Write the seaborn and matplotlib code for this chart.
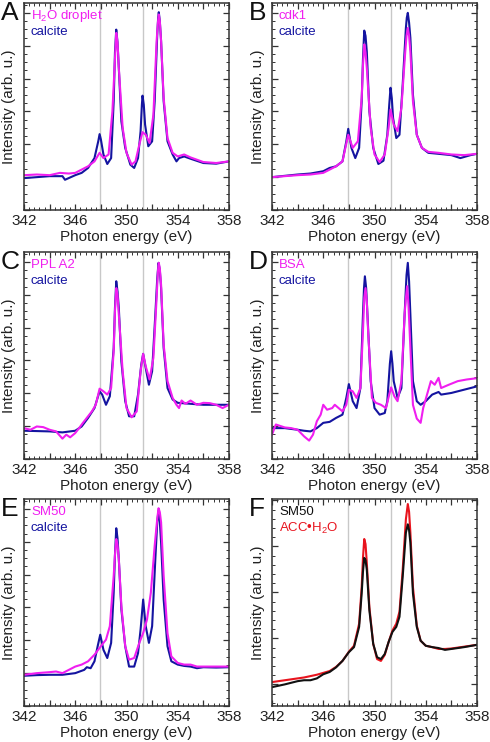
import numpy as np
import pandas as pd
import seaborn as sns
import matplotlib.pyplot as plt
from matplotlib.ticker import MultipleLocator, AutoMinorLocator, FuncFormatter

# ---- data (energy in eV, intensity in arb. units) ----
# A: H2O droplet vs calcite
a_calc_e = [342, 343, 344, 345, 345.2, 346, 346.5, 347, 347.5, 347.8, 347.9, 348.0, 348.2, 348.5, 348.8,
            349.0, 349.1, 349.2, 349.3, 349.4, 349.6, 349.9, 350.3, 350.6, 350.9, 351.1, 351.2, 351.25,
            351.35, 351.45, 351.7, 352.0, 352.2, 352.4, 352.47, 352.52, 352.6, 352.7, 352.9, 353.2,
            353.6, 353.9, 354.1, 354.5, 355, 356, 357, 358]
a_calc_i = [0.97, 1.0, 1.03, 1.03, 0.92, 1.06, 1.13, 1.28, 1.58, 2.1, 2.31, 2.15, 1.69, 1.40, 1.58,
            3.31, 4.8, 5.49, 5.1, 4.32, 2.70, 1.89, 1.38, 1.28, 1.58, 2.40, 3.2, 3.48,
            3.2, 2.60, 1.94, 2.09, 3.31, 5.34, 5.85, 6.02, 5.75, 5.14, 3.31, 2.09,
            1.69, 1.48, 1.58, 1.63, 1.56, 1.43, 1.41, 1.48]
a_samp_e = [342, 343, 344, 344.8, 345.5, 346, 346.5, 347, 347.5, 347.9, 348.2, 348.6, 348.9, 349.1,
            349.2, 349.3, 349.4, 349.7, 350.0, 350.4, 350.7, 351.0, 351.25, 351.5, 351.8, 352.1,
            352.35, 352.45, 352.52, 352.6, 352.7, 352.9, 353.2, 353.6, 354, 354.5, 355, 356, 357, 358]
a_samp_i = [1.06, 1.08, 1.06, 1.13, 1.11, 1.13, 1.23, 1.33, 1.48, 1.74, 1.58, 1.69, 3.0, 4.6,
            5.39, 5.1, 4.32, 2.5, 1.74, 1.38, 1.48, 1.99, 2.37, 2.29, 2.04, 2.9,
            5.14, 5.7, 5.95, 5.75, 5.14, 3.41, 2.19, 1.74, 1.63, 1.69, 1.60, 1.46, 1.43, 1.48]

# B: cdk1 vs calcite
b_calc_e = [342, 344, 345, 346, 346.5, 347, 347.5, 347.8, 347.95, 348.2, 348.5, 348.8, 349.0, 349.1,
            349.2, 349.3, 349.4, 349.6, 349.9, 350.3, 350.7, 351.0, 351.15, 351.25, 351.35, 351.45,
            351.7, 351.95, 352.2, 352.45, 352.52, 352.6, 352.7, 352.8, 353.0, 353.3, 353.7, 354.2,
            355, 356, 356.7, 357.5, 358]
b_calc_i = [1.0, 1.08, 1.11, 1.18, 1.28, 1.33, 1.48, 2.09, 2.47, 1.89, 1.58, 1.89, 3.31, 4.6,
            5.46, 5.3, 4.82, 3.0, 1.89, 1.40, 1.50, 2.29, 3.2, 3.72, 3.4, 2.80,
            2.19, 2.29, 3.82, 5.54, 5.85, 6.0, 5.7, 5.24, 3.51, 2.29, 1.89, 1.74,
            1.71, 1.67, 1.58, 1.67, 1.71]
b_samp_e = [342, 344, 345, 346, 346.5, 347, 347.5, 347.95, 348.3, 348.7, 349.0, 349.1, 349.2, 349.3,
            349.4, 349.7, 350.0, 350.4, 350.8, 351.1, 351.25, 351.5, 351.8, 352.1, 352.4, 352.5,
            352.6, 352.7, 352.8, 353.0, 353.3, 353.7, 354.2, 355, 356, 357, 358]
b_samp_i = [1.0, 1.06, 1.08, 1.13, 1.23, 1.33, 1.48, 2.29, 1.89, 2.09, 3.41, 4.4, 5.04, 4.8,
            4.32, 2.5, 1.69, 1.46, 1.69, 2.5, 3.06, 2.6, 2.4, 3.11, 4.82, 5.3,
            5.54, 5.3, 4.82, 3.31, 2.29, 1.89, 1.77, 1.74, 1.69, 1.67, 1.71]

# C: PPL A2 vs calcite
c_calc_e = [342, 344, 345, 346, 346.5, 347, 347.5, 347.9, 348.1, 348.4, 348.7, 349.0, 349.1, 349.2,
            349.3, 349.4, 349.6, 349.9, 350.2, 350.6, 350.9, 351.15, 351.3, 351.5, 351.75, 352.0,
            352.25, 352.4, 352.5, 352.6, 352.7, 352.9, 353.2, 353.6, 354.0, 355, 356, 357, 358]
c_calc_i = [0.86, 0.84, 0.81, 0.86, 0.99, 1.25, 1.55, 2.06, 1.96, 1.65, 1.91, 3.38, 4.6, 5.41,
            5.1, 4.6, 2.97, 1.76, 1.30, 1.30, 1.96, 2.87, 3.2, 2.77, 2.26, 2.67,
            4.4, 5.5, 5.97, 5.75, 5.2, 3.38, 2.16, 1.81, 1.71, 1.68, 1.65, 1.65, 1.65]
c_samp_e = [342, 342.5, 343, 343.5, 344, 344.5, 345, 345.3, 345.6, 346, 346.3, 346.6, 347, 347.3,
            347.6, 347.9, 348.2, 348.5, 348.8, 349.0, 349.1, 349.2, 349.3, 349.4, 349.7, 350.0,
            350.4, 350.8, 351.1, 351.3, 351.5, 351.8, 352.1, 352.35, 352.45, 352.52, 352.6, 352.7,
            352.9, 353.2, 353.6, 353.9, 354.1, 354.3, 354.6, 355, 355.5, 356, 356.5, 357, 357.5, 358]
c_samp_i = [0.94, 0.89, 0.99, 0.97, 0.89, 0.84, 0.62, 0.74, 0.66, 0.79, 0.94, 1.10, 1.30, 1.45,
            1.65, 2.14, 2.06, 1.96, 2.16, 3.28, 4.5, 5.2, 5.0, 4.4, 2.67, 1.55,
            1.27, 1.45, 2.67, 3.2, 2.82, 2.42, 3.08, 4.9, 5.7, 5.97, 5.8, 5.3,
            3.48, 2.37, 1.86, 1.65, 1.55, 1.78, 1.68, 1.78, 1.65, 1.71, 1.70, 1.65, 1.55, 1.65]

# D: BSA vs calcite
d_calc_e = [342, 343, 344, 344.5, 345, 345.5, 346, 346.5, 347, 347.5, 347.8, 348.0, 348.3, 348.6,
            348.9, 349.1, 349.18, 349.25, 349.35, 349.45, 349.7, 350.0, 350.4, 350.8, 351.0, 351.2,
            351.3, 351.4, 351.5, 351.8, 352.1, 352.35, 352.5, 352.6, 352.7, 352.8, 353.0, 353.3,
            353.6, 354.0, 354.5, 355, 355.2, 356, 357, 358]
d_calc_i = [0.94, 0.94, 0.89, 0.86, 0.84, 0.94, 1.10, 1.13, 1.25, 1.35, 1.86, 2.28, 1.76, 1.55,
            2.16, 4.4, 5.2, 5.56, 5.2, 4.4, 2.37, 1.55, 1.35, 1.40, 1.76, 2.9,
            3.28, 2.9, 2.37, 1.86, 2.16, 4.4, 5.6, 5.97, 5.4, 4.4, 2.37, 1.76,
            1.65, 1.76, 1.96, 2.04, 1.96, 2.01, 2.11, 2.21]
d_samp_e = [342, 342.3, 343, 343.5, 344, 344.5, 344.9, 345.2, 345.5, 345.8, 346.0, 346.3, 346.7,
            346.9, 347.2, 347.5, 347.8, 348.0, 348.3, 348.6, 348.9, 349.1, 349.2, 349.3, 349.4,
            349.5, 349.8, 350.1, 350.5, 350.9, 351.15, 351.3, 351.55, 351.8, 352.1, 352.35, 352.45,
            352.55, 352.65, 352.8, 353.0, 353.3, 353.6, 353.8, 354.1, 354.4, 354.7, 355.0, 355.2,
            355.8, 356.5, 357.2, 358]
d_samp_i = [0.74, 1.05, 0.96, 0.94, 0.89, 0.69, 0.56, 0.74, 1.15, 1.35, 1.65, 1.50, 1.55,
            1.65, 1.55, 1.45, 1.65, 2.11, 2.06, 1.86, 2.16, 3.89, 4.9, 5.2, 4.8,
            3.89, 1.86, 1.71, 1.65, 1.55, 1.96, 2.18, 1.91, 1.76, 2.37, 4.4, 4.9,
            5.26, 4.7, 3.38, 1.65, 1.23, 1.10, 1.55, 1.96, 2.37, 2.26, 2.47, 2.16,
            2.26, 2.37, 2.42, 2.46]

# E: SM50 vs calcite
e_calc_e = [342, 343, 344, 345, 346, 346.7, 346.9, 347.2, 347.5, 347.75, 347.95, 348.2, 348.5, 348.8,
            349.0, 349.1, 349.2, 349.3, 349.4, 349.6, 349.9, 350.2, 350.6, 350.9, 351.1, 351.3,
            351.5, 351.75, 352.0, 352.25, 352.4, 352.5, 352.6, 352.7, 352.9, 353.2, 353.5, 354,
            354.5, 355, 355.5, 356, 357, 358]
e_calc_i = [0.92, 0.94, 0.95, 0.95, 1.0, 1.10, 1.18, 1.15, 1.36, 1.82, 2.17, 1.71, 1.46, 1.92,
            3.45, 4.6, 5.41, 5.1, 4.47, 2.94, 1.82, 1.20, 1.20, 1.61, 2.33, 3.24,
            2.43, 1.92, 2.43, 4.47, 5.6, 5.95, 5.6, 4.98, 3.24, 1.82, 1.36, 1.26,
            1.22, 1.20, 1.15, 1.18, 1.17, 1.18]
e_samp_e = [342, 343, 344, 344.5, 345, 345.5, 346, 346.5, 347, 347.5, 348.0, 348.4, 348.7, 349.0,
            349.1, 349.2, 349.3, 349.4, 349.6, 349.9, 350.2, 350.6, 351.0, 351.3, 351.6, 351.9,
            352.2, 352.4, 352.5, 352.6, 352.7, 352.9, 353.2, 353.5, 354, 354.5, 355, 355.5, 356,
            357, 358]
e_samp_i = [0.95, 1.0, 1.03, 1.05, 1.0, 1.10, 1.20, 1.26, 1.36, 1.56, 1.82, 2.02, 2.43, 3.96,
            4.6, 5.08, 4.9, 4.47, 3.04, 1.82, 1.41, 1.46, 1.92, 2.22, 2.63, 3.45,
            4.88, 5.7, 6.02, 5.9, 5.59, 3.96, 2.22, 1.51, 1.31, 1.26, 1.26, 1.20, 1.20,
            1.20, 1.20]

# F: SM50 vs ACC.H2O (shared energy grid)
f_e = [342, 343, 344, 344.5, 345, 345.5, 346, 346.5, 347, 347.5, 348.0, 348.4, 348.8, 349.0, 349.1,
       349.2, 349.3, 349.4, 349.6, 349.9, 350.2, 350.5, 350.8, 351.1, 351.4, 351.7, 351.95, 352.2,
       352.45, 352.6, 352.7, 352.8, 353.0, 353.3, 353.6, 354, 354.5, 355, 355.5, 356, 357, 358]
f_sm50_i = [-0.06, 0.0, 0.07, 0.09, 0.09, 0.13, 0.22, 0.27, 0.37, 0.51, 0.70, 0.81, 1.25, 1.98, 2.45,
            2.75, 2.7, 2.49, 1.61, 0.88, 0.59, 0.55, 0.66, 0.92, 1.14, 1.25, 1.47, 2.34,
            3.30, 3.48, 3.35, 3.08, 1.98, 1.25, 0.95, 0.84, 0.81, 0.79, 0.75, 0.77, 0.81, 0.86]
f_acc_i = [0.05, 0.09, 0.13, 0.15, 0.18, 0.21, 0.25, 0.29, 0.38, 0.51, 0.71, 0.84, 1.32, 2.12, 2.75,
           3.16, 3.05, 2.64, 1.68, 0.88, 0.55, 0.51, 0.64, 0.92, 1.17, 1.32, 1.58, 2.49,
           3.59, 3.92, 3.75, 3.30, 2.12, 1.28, 0.95, 0.84, 0.81, 0.77, 0.77, 0.78, 0.82, 0.86]

guide_lines = [347.95, 351.3]

BLUE = "#1414a0"
MAGENTA = "#f01ef0"
RED = "#e8141e"
BLACK = "#111111"

panels = [
    ("A", ["H$_2$O droplet", "calcite"], [(a_calc_e, a_calc_i, BLUE), (a_samp_e, a_samp_i, MAGENTA)], [MAGENTA, BLUE]),
    ("B", ["cdk1", "calcite"], [(b_calc_e, b_calc_i, BLUE), (b_samp_e, b_samp_i, MAGENTA)], [MAGENTA, BLUE]),
    ("C", ["PPL A2", "calcite"], [(c_calc_e, c_calc_i, BLUE), (c_samp_e, c_samp_i, MAGENTA)], [MAGENTA, BLUE]),
    ("D", ["BSA", "calcite"], [(d_calc_e, d_calc_i, BLUE), (d_samp_e, d_samp_i, MAGENTA)], [MAGENTA, BLUE]),
    ("E", ["SM50", "calcite"], [(e_calc_e, e_calc_i, BLUE), (e_samp_e, e_samp_i, MAGENTA)], [MAGENTA, BLUE]),
    ("F", ["SM50", "ACC\u2022H$_2$O"], [(f_e, f_acc_i, RED), (f_e, f_sm50_i, BLACK)], [BLACK, RED]),
]

sns.set_theme(style="ticks")
plt.rcParams['font.family'] = ['Liberation Sans', 'DejaVu Sans']
plt.rcParams['mathtext.fontset'] = 'custom'
plt.rcParams['mathtext.rm'] = 'Liberation Sans'
plt.rcParams['mathtext.it'] = 'Liberation Sans'

fig = plt.figure(figsize=(4.9, 7.42), dpi=100)

W, H = 490, 742
col_left = [24, 272]
row_top = [3, 252, 499]
ax_w, ax_h = 205, 207

for i, (letter, names, curves, name_colors) in enumerate(panels):
    r, c = divmod(i, 2)
    x0 = col_left[c] / W
    y0 = 1 - (row_top[r] + ax_h) / H
    ax = fig.add_axes([x0, y0, ax_w / W, ax_h / H])

    for g in guide_lines:
        ax.axvline(g, color="#c8c8c8", lw=1.0, zorder=0)

    for xs, ys, col in curves:
        sns.lineplot(x=xs, y=ys, ax=ax, color=col, lw=1.5, estimator=None, sort=False)

    ax.set_xlim(342, 358)
    ax.xaxis.set_major_locator(MultipleLocator(2))
    ax.xaxis.set_minor_locator(AutoMinorLocator(5))
    ax.xaxis.set_major_formatter(FuncFormatter(lambda v, p: f"{v:.0f}" if round(v) % 4 == 2 else ""))
    ax.yaxis.set_major_locator(MultipleLocator(1))
    if letter == "F":
        ax.set_ylim(-0.47, 4.03)
        ax.yaxis.set_minor_locator(AutoMinorLocator(5))
    else:
        ax.set_ylim(0, 6.3)
        ax.yaxis.set_minor_locator(AutoMinorLocator(4))
    ax.set_yticklabels([])

    ax.tick_params(which="both", direction="in", top=True, right=True, color="#333333")
    ax.tick_params(which="major", length=4, width=0.9, labelsize=11, labelcolor="#222222", pad=3)
    ax.tick_params(which="minor", length=2, width=0.7)
    for sp in ax.spines.values():
        sp.set_color("#333333")
        sp.set_linewidth(1.1)

    ax.set_xlabel("Photon energy (eV)", fontsize=11, color="#222222", labelpad=1)
    ax.set_ylabel("Intensity (arb. u.)", fontsize=11, color="#222222", labelpad=2)

    ax.text(0.034, 0.935, names[0], transform=ax.transAxes, color=name_colors[0],
            fontsize=9.5, va="center", ha="left")
    ax.text(0.034, 0.858, names[1], transform=ax.transAxes, color=name_colors[1],
            fontsize=9.5, va="center", ha="left")
    fig.text((col_left[c] - 23) / W, 1 - (row_top[r] + 10) / H, letter,
             fontsize=19, color="#111111", ha="left", va="center")

fig.savefig("out.png", dpi=100)
